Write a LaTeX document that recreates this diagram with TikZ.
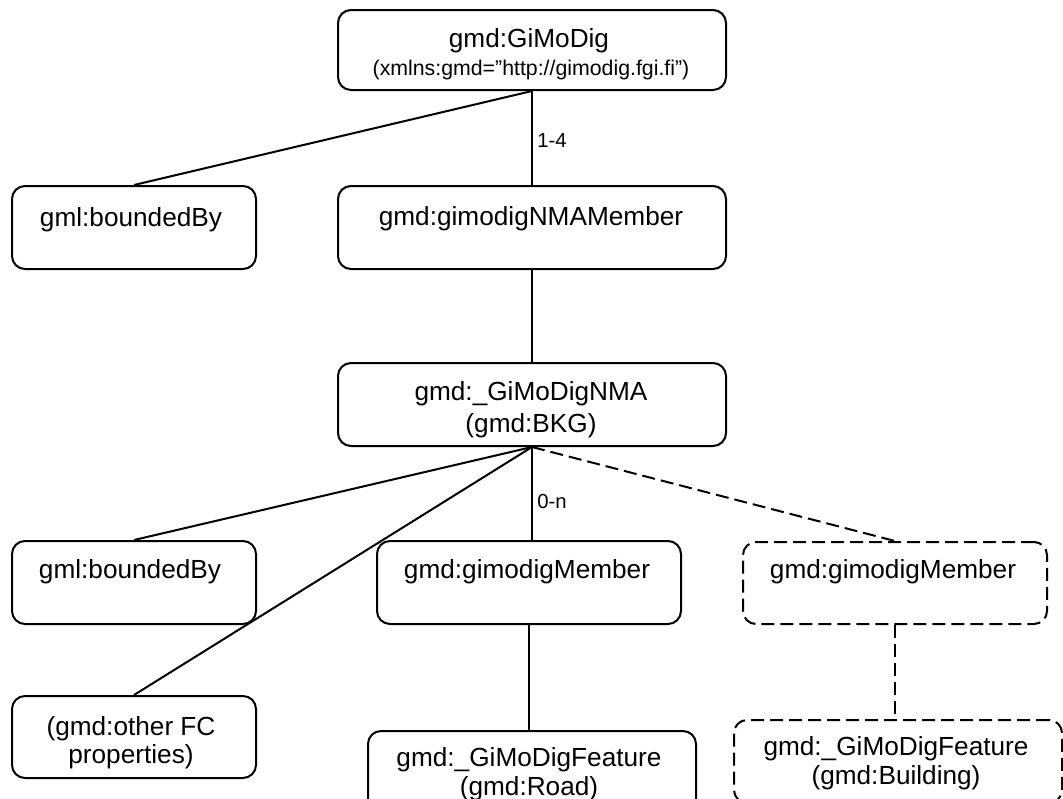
\documentclass[tikz,border=0pt]{standalone}
\usepackage{fontspec}
\setmainfont{Liberation Sans}
\begin{document}
\begin{tikzpicture}[x=0.5pt,y=-0.5pt,
  box/.style={draw, line width=1pt, rounded corners=6.5pt, inner sep=0pt},
  optbox/.style={box, dash pattern=on 6.5pt off 3pt},
  link/.style={line width=1pt},
  optlink/.style={link, dash pattern=on 6.5pt off 3pt},
  main/.style={anchor=base, inner sep=0pt, font=\fontsize{13.1pt}{15pt}\selectfont},
  sub/.style={anchor=base, inner sep=0pt, font=\fontsize{10.65pt}{13pt}\selectfont},
  mult/.style={anchor=base west, inner sep=0pt, font=\fontsize{10.15pt}{12pt}\selectfont}]
  \useasboundingbox (0,0) rectangle (1063,798);
  \fill[white] (0,0) rectangle (1063,798);
  \clip (0,0) rectangle (1063,798);

  % element boxes
  \node[box, minimum width=194pt, minimum height=40pt]   (T)    at (532,50) {};
  \node[box, minimum width=122pt, minimum height=41.5pt] (b1)   at (134,227.5) {};
  \node[box, minimum width=194pt, minimum height=41.5pt] (nmam) at (532,227.5) {};
  \node[box, minimum width=194pt, minimum height=41.5pt] (nma)  at (532,404.5) {};
  \node[box, minimum width=122pt, minimum height=41.5pt] (b2)   at (134,582.5) {};
  \node[box, minimum width=152pt, minimum height=41.5pt] (gm)   at (529,582.5) {};
  \node[optbox, minimum width=152pt, minimum height=41pt] (gm2) at (895,583) {};
  \node[box, minimum width=122pt, minimum height=41pt]   (fc)   at (134,737) {};
  \node[box, minimum width=164pt, minimum height=41.5pt] (road) at (532,772.5) {};
  \node[optbox, minimum width=164pt, minimum height=41.5pt] (bld) at (898,761.5) {};

  % box texts
  \node[main] (tT1) at (529,47) {gmd:GiMoDig};
  \node[sub]  (tT2) at (531,75) {(xmlns:gmd=”http://gimodig.fgi.fi”)};
  \node[main] (tb1) at (131,226) {gml:boundedBy};
  \node[main] (tnmam) at (531,225) {gmd:gimodigNMAMember};
  \node[main] (tnma1) at (531,400) {gmd:\_GiMoDigNMA};
  \node[main] (tnma2) at (531,432) {(gmd:BKG)};
  \node[main] (tb2) at (130,578) {gml:boundedBy};
  \node[main] (tgm) at (527,578) {gmd:gimodigMember};
  \node[main] (tgm2) at (893,578) {gmd:gimodigMember};
  \node[main] (tfc1) at (131,735) {(gmd:other FC};
  \node[main] (tfc2) at (131,763) {properties)};
  \node[main] (troad1) at (529,766) {gmd:\_GiMoDigFeature};
  \node[main] (troad2) at (529,795) {(gmd:Road)};
  \node[main] (tbld1) at (896,755) {gmd:\_GiMoDigFeature};
  \node[main] (tbld2) at (896,784) {(gmd:Building)};

  % multiplicities
  \node[mult] (m14) at (537,147) {1-4};
  \node[mult] (m0n) at (537,508) {0-n};

  % connectors
  \draw[link] (T.south) -- (b1.north);
  \draw[link] (T.south) -- (nmam.north);
  \draw[link] (nmam.south) -- (nma.north);
  \draw[link] (nma.south) -- (b2.north);
  \draw[link] (nma.south) -- (fc.north);
  \draw[link] (nma.south) -- (nma.south |- gm.north);
  \draw[optlink] (nma.south) -- (gm2.north);
  \draw[link] (gm.south) -- (gm.south |- road.north);
  \draw[optlink] (gm2.south) -- (gm2.south |- bld.north);
\end{tikzpicture}
\end{document}
